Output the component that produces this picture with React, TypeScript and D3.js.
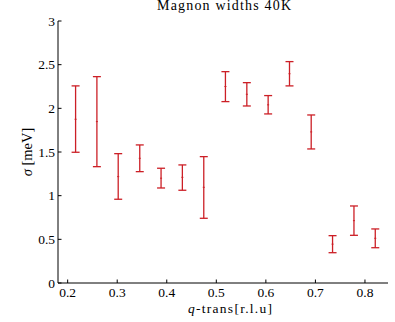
import React from "react";
import * as d3 from "d3";

const qValues = [0.216, 0.259, 0.302, 0.3455, 0.3885, 0.4315, 0.4747, 0.5184, 0.5616, 0.6046, 0.6477, 0.6915, 0.7346, 0.7778, 0.8208];
const sigmaCenter = [1.875, 1.848, 1.218, 1.428, 1.2, 1.21, 1.096, 2.25, 2.161, 2.04, 2.396, 1.73, 0.445, 0.714, 0.512];
const sigmaLow = [1.497, 1.332, 0.959, 1.275, 1.088, 1.062, 0.741, 2.077, 2.027, 1.936, 2.257, 1.535, 0.347, 0.546, 0.404];
const sigmaHigh = [2.257, 2.363, 1.481, 1.581, 1.314, 1.352, 1.447, 2.42, 2.294, 2.146, 2.535, 1.924, 0.542, 0.882, 0.619];
const xTicks = [0.2, 0.3, 0.4, 0.5, 0.6, 0.7, 0.8];
const yTicks = [0, 0.5, 1, 1.5, 2, 2.5, 3];

const W = 395;
const H = 322;
const FONT = "Liberation Serif";
const RED = "#cc1f26";

const txt: React.CSSProperties = { fontFamily: FONT, fontSize: 13.5 };

export default function App() {
  const x = d3.scaleLinear().domain([0.1805, 0.8465]).range([58, 388]);
  const y = d3.scaleLinear().domain([0, 3]).range([283, 21]);
  const cap = 4;
  return (
    <svg width={W} height={H} style={{ position: "absolute", left: 0, top: 0, background: "#fff" }}>
      <rect x={0} y={0} width={W} height={H} fill="#fff" />
      <text x={224} y={10} textAnchor="middle" style={{ fontFamily: FONT, fontSize: 14 }} textLength={134} lengthAdjust="spacing">
        Magnon widths 40K
      </text>
      <line x1={58} x2={58} y1={y(3)} y2={y(0)} stroke="#000" strokeWidth={1} />
      <line x1={58} x2={388} y1={y(0)} y2={y(0)} stroke="#000" strokeWidth={1} />
      {xTicks.map((t) => (
        <g key={"x" + t}>
          <line x1={x(t)} x2={x(t)} y1={y(0)} y2={y(0) - 3.5} stroke="#000" />
          <text x={x(t)} y={297} textAnchor="middle" style={txt}>
            {t.toFixed(1)}
          </text>
        </g>
      ))}
      {yTicks.map((t) => (
        <g key={"y" + t}>
          <line x1={58} x2={61.5} y1={y(t)} y2={y(t)} stroke="#000" />
          <text x={55} y={y(t) + 4.5} textAnchor="end" style={txt}>
            {String(t)}
          </text>
        </g>
      ))}
      <text x={230} y={313} textAnchor="middle" style={{ fontFamily: FONT, fontSize: 13.5 }} textLength={84} lengthAdjust="spacing">
        <tspan fontStyle="italic">q</tspan>-trans[r.l.u]
      </text>
      <text transform={`translate(32,152) rotate(-90)`} textAnchor="middle" style={{ fontFamily: FONT, fontSize: 14.5 }}>
        <tspan fontStyle="italic">σ</tspan> [meV]
      </text>
      {qValues.map((q, i) => {
        const cx = x(q);
        return (
          <g key={"e" + i} stroke={RED} strokeWidth={1.3}>
            <line x1={cx} x2={cx} y1={y(sigmaLow[i])} y2={y(sigmaHigh[i])} />
            <line x1={cx - cap} x2={cx + cap} y1={y(sigmaLow[i])} y2={y(sigmaLow[i])} />
            <line x1={cx - cap} x2={cx + cap} y1={y(sigmaHigh[i])} y2={y(sigmaHigh[i])} />
            <line x1={cx - 1} x2={cx + 1} y1={y(sigmaCenter[i])} y2={y(sigmaCenter[i])} strokeWidth={1} />
          </g>
        );
      })}
    </svg>
  );
}
